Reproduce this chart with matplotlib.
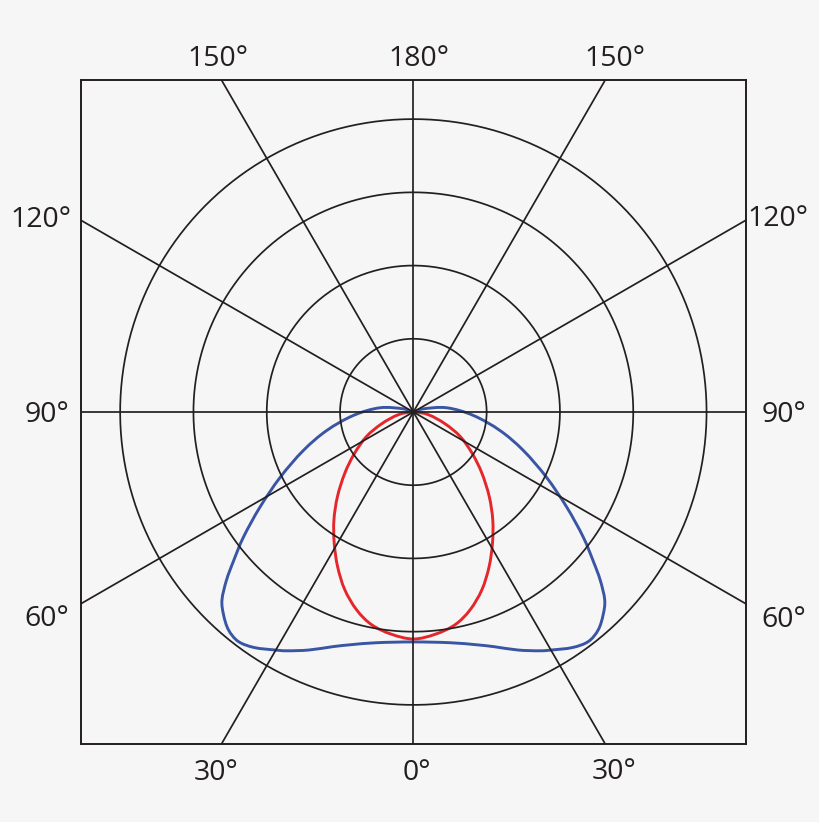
import numpy as np
import matplotlib
matplotlib.use("Agg")
import matplotlib.pyplot as plt
from matplotlib.path import Path
from matplotlib.patches import PathPatch

# %% data (angle from nadir in degrees, intensity in ring units)
red_angles = [0, 5.6, 11.1, 16, 21.1, 26.1, 31.1, 36.3, 41.9, 48.3, 54.9, 62.4, 69.6, 79.6, 90]
red_values = [310, 305, 296, 281, 260, 235, 209, 183, 155, 125, 98, 72, 46, 21, 0]

blue_angles = [0, 9, 15, 19, 23.7, 27.9, 30.2, 34, 37.3, 40.3, 43.1, 45.5, 48, 50.3,
               53.6, 58.2, 63.9, 70.7, 77.9, 86.7, 97.2, 107.7, 115]
blue_values = [314, 319, 329, 339, 355, 369, 376, 388, 394, 390, 379, 366, 343, 319,
               288, 246, 202, 159, 121, 82, 46, 14, 0]

rings = [100, 200, 300, 400]
spokes = [0, 30, 60, 90, 120, 150, 180, 210, 240, 270, 300, 330]
tick_labels = ["150°", "180°", "150°", "120°", "120°", "90°", "90°",
               "60°", "60°", "30°", "0°", "30°"]
label_pos = [(-267, 472), (8, 472), (275, 472), (-508, 253), (497, 254),
             (-500, -13), (505, -13), (-500, -292), (505, -293),
             (-269, -503), (5, -503), (274, -501)]

# %% styling
bg = "#f6f6f6"
ink = "#231f20"
cBlue = "#3a55a4"
cRed = "#e5262b"
plt.rcParams['font.family'] = ['Open Sans', 'DejaVu Sans']


def mirrored(angles, values):
    a = np.radians(np.concatenate([-np.array(angles[::-1]), np.array(angles[1:])]))
    r = np.concatenate([np.array(values[::-1]), np.array(values[1:])])
    return np.column_stack([r * np.sin(a), -r * np.cos(a)])


def smooth_path(pts):
    # closed catmull-rom style bezier through the read points (curve starts/ends at centre)
    n = len(pts) - 1
    P = np.vstack([pts[-2], pts, pts[1]])
    verts = [pts[0]]
    codes = [Path.MOVETO]
    for i in range(n):
        p0, p1, p2, p3 = P[i], P[i + 1], P[i + 2], P[i + 3]
        verts += [p1 + (p2 - p0) / 6, p2 - (p3 - p1) / 6, p2]
        codes += [Path.CURVE4] * 3
    return Path(verts, codes)


fig = plt.figure(figsize=(8.2, 8.22), dpi=100, facecolor=bg)
ax = fig.add_axes([81 / 820, 78 / 822, 664.7 / 820, 664 / 822])
ax.set_facecolor(bg)
lim = 453.4
ax.set_xlim(-lim, lim)
ax.set_ylim(-lim, lim)
ax.set_xticks([])
ax.set_yticks([])
for s in ax.spines.values():
    s.set_color(ink)
    s.set_linewidth(1.4)

t = np.linspace(0, 2 * np.pi, 400)
for r in rings:
    ax.plot(r * np.cos(t), r * np.sin(t), color=ink, lw=1.25)

for sp in spokes:
    a = np.radians(sp)
    ax.plot([0, 1000 * np.sin(a)], [0, -1000 * np.cos(a)], color=ink, lw=1.25)

for ang, val, col in [(blue_angles, blue_values, cBlue), (red_angles, red_values, cRed)]:
    ax.add_patch(PathPatch(smooth_path(mirrored(ang, val)), fill=False,
                           edgecolor=col, lw=2.1, joinstyle='round'))

for txt, (x, y) in zip(tick_labels, label_pos):
    ax.text(x, y, txt, ha='center', va='baseline', fontsize=20.5,
            color=ink, clip_on=False)

fig.savefig("out.png", dpi=100, facecolor=bg)
